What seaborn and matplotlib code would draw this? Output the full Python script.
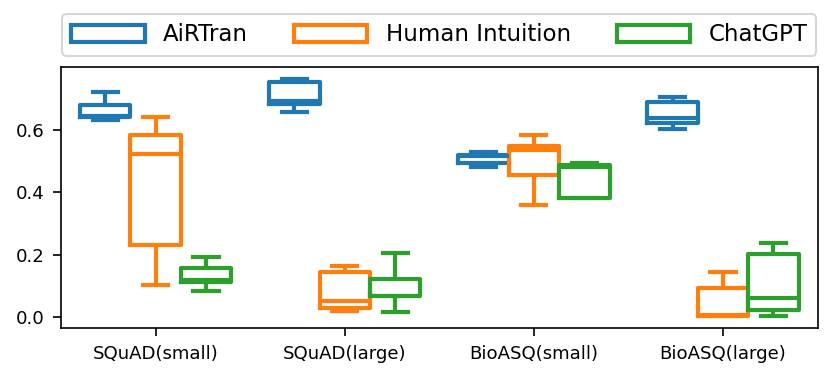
import numpy as np
import pandas as pd
import matplotlib
matplotlib.use("Agg")
import matplotlib.pyplot as plt
import seaborn as sns

datasets = ["SQuAD(small)", "SQuAD(large)", "BioASQ(small)", "BioASQ(large)"]
methods = ["AiRTran", "Human Intuition", "ChatGPT"]
colors = ["#1f77b4", "#ff7f0e", "#2ca02c"]

# five-number summaries per dataset: [min, q1, median, q3, max]
airtran = [
    [0.632, 0.642, 0.645, 0.680, 0.722],
    [0.657, 0.682, 0.691, 0.752, 0.763],
    [0.482, 0.494, 0.515, 0.520, 0.530],
    [0.602, 0.621, 0.638, 0.689, 0.704],
]
human = [
    [0.103, 0.232, 0.521, 0.583, 0.642],
    [0.020, 0.030, 0.050, 0.143, 0.164],
    [0.360, 0.455, 0.535, 0.548, 0.582],
    [0.003, 0.005, 0.008, 0.094, 0.143],
]
chatgpt = [
    [0.083, 0.113, 0.120, 0.156, 0.191],
    [0.016, 0.066, 0.068, 0.122, 0.205],
    [0.380, 0.381, 0.482, 0.488, 0.493],
    [0.003, 0.022, 0.062, 0.203, 0.238],
]

rows = []
for m, series in zip(methods, [airtran, human, chatgpt]):
    for d, vals in zip(datasets, series):
        for v in vals:
            rows.append({"dataset": d, "method": m, "score": v})
df = pd.DataFrame(rows)

fig = plt.figure(figsize=(830 / 150, 379 / 150), dpi=150)
ax = fig.add_axes([61 / 830, 1 - 328 / 379, (817.6 - 61) / 830, (328 - 67) / 379])

sns.boxplot(data=df, x="dataset", y="score", hue="method", order=datasets,
            hue_order=methods, palette=colors, fill=False, linewidth=2,
            ax=ax)

ax.set_xlabel("")
ax.set_ylabel("")
ax.set_yticks([0.0, 0.2, 0.4, 0.6])
ax.tick_params(labelsize=8.7, length=4, pad=4)

sns.move_legend(ax, "lower center", bbox_to_anchor=(0.5, 1.0), ncol=3,
                title=None, fontsize=11, handlelength=3.2, handleheight=0.8,
                frameon=True)

fig.savefig("out.png", dpi=150)
